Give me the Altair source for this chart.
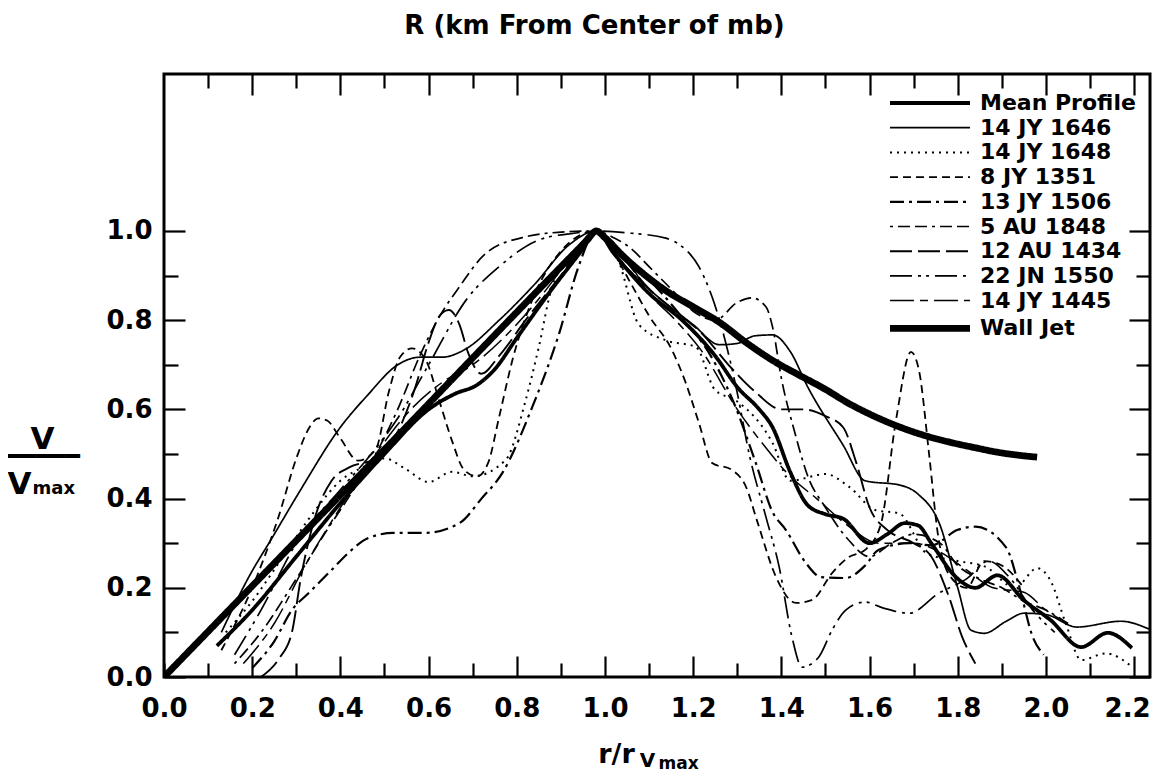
import altair as alt
import pandas as pd

FONT = "DejaVu Sans"

SERIES_NAMES = ["Mean Profile", "14 JY 1646", "14 JY 1648", "8 JY 1351", "13 JY 1506",
                "5 AU 1848", "12 AU 1434", "22 JN 1550", "14 JY 1445", "Wall Jet"]
DASHES = [[1, 0], [1, 0], [2, 5], [8, 5], [14, 5, 3, 5], [3, 5, 12, 5, 12, 5],
          [22, 6], [22, 6, 3, 5, 3, 6], [24, 6, 8, 6], [1, 0]]
WIDTHS = [3.8, 1.7, 2.0, 1.8, 2.2, 1.7, 1.9, 1.7, 1.5, 6.8]

X_MAJOR = [0.2, 0.4, 0.6, 0.8, 1.0, 1.2, 1.4, 1.6, 1.8, 2.0, 2.2]
X_MINOR = [0.0, 0.1, 0.3, 0.5, 0.7, 0.9, 1.1, 1.3, 1.5, 1.7, 1.9, 2.1]
X_TOP_MAJOR = [0.2, 0.4, 0.6, 0.8, 1.0, 1.2, 1.4, 1.6, 1.8, 2.0, 2.2]
X_TOP_MINOR = [0.1, 0.3, 0.5, 0.7, 0.9, 1.1, 1.3, 1.5, 1.7, 1.9, 2.1]
Y_MAJOR = [0.0, 0.2, 0.4, 0.6, 0.8, 1.0]
Y_MINOR = [0.1, 0.3, 0.5, 0.7, 0.9]

MEAN_X = [0.12, 0.2, 0.3, 0.4, 0.5, 0.6, 0.66, 0.71, 0.75, 0.8, 0.88, 0.95, 0.98, 1.02, 1.1, 1.175,
          1.25, 1.3, 1.35, 1.38, 1.42, 1.46, 1.5, 1.54, 1.6, 1.64, 1.68, 1.71, 1.74, 1.795, 1.84,
          1.89, 1.95, 2.01, 2.08, 2.14, 2.195]
MEAN_Y = [0.07, 0.15, 0.27, 0.39, 0.5, 0.6, 0.635, 0.655, 0.69, 0.76, 0.87, 0.96, 1.0, 0.95, 0.86, 0.8,
          0.72, 0.65, 0.6, 0.56, 0.46, 0.385, 0.365, 0.355, 0.30, 0.32, 0.345, 0.34, 0.30, 0.225, 0.20,
          0.228, 0.172, 0.128, 0.067, 0.099, 0.065]

JY1646_X = [0.13, 0.19, 0.25, 0.31, 0.4, 0.46, 0.53, 0.58, 0.63, 0.68, 0.76, 0.84, 0.92, 0.98, 1.02,
            1.1, 1.2, 1.26, 1.3, 1.34, 1.38, 1.42, 1.46, 1.54, 1.59, 1.67, 1.71, 1.76, 1.8, 1.83,
            1.86, 1.91, 1.95, 2.0, 2.07, 2.17, 2.235]
JY1646_Y = [0.1, 0.22, 0.32, 0.42, 0.56, 0.63, 0.70, 0.717, 0.717, 0.733, 0.80, 0.88, 0.97, 1.0, 0.95,
            0.87, 0.79, 0.745, 0.748, 0.765, 0.767, 0.73, 0.65, 0.52, 0.44, 0.43, 0.41, 0.34, 0.2, 0.105,
            0.098, 0.125, 0.143, 0.14, 0.112, 0.125, 0.107]

JY1648_X = [0.14, 0.2, 0.27, 0.34, 0.4, 0.45, 0.5, 0.55, 0.6, 0.653, 0.7, 0.775, 0.82, 0.85, 0.88,
            0.934, 0.98, 1.03, 1.077, 1.138, 1.206, 1.25, 1.297, 1.38, 1.42, 1.5, 1.553, 1.614, 1.667,
            1.73, 1.8, 1.863, 1.93, 1.98, 2.01, 2.045, 2.08, 2.136, 2.195]
JY1648_Y = [0.1, 0.17, 0.27, 0.37, 0.44, 0.47, 0.49, 0.465, 0.437, 0.46, 0.45, 0.487, 0.62, 0.74, 0.875,
            0.957, 1.0, 0.935, 0.79, 0.755, 0.74, 0.643, 0.62, 0.525, 0.44, 0.455, 0.427, 0.374, 0.367,
            0.277, 0.26, 0.247, 0.20, 0.244, 0.217, 0.12, 0.038, 0.053, 0.023]

JY1351_X = [0.13, 0.2, 0.26, 0.3, 0.33, 0.35, 0.37, 0.4, 0.44, 0.48, 0.51, 0.535, 0.563, 0.594, 0.624,
            0.653, 0.68, 0.71, 0.735, 0.76, 0.79, 0.835, 0.896, 0.98, 1.02, 1.06, 1.1, 1.152, 1.183,
            1.213, 1.243, 1.288, 1.32, 1.345, 1.388, 1.433, 1.47, 1.515, 1.553, 1.59, 1.625, 1.66,
            1.694, 1.712, 1.735, 1.755, 1.78, 1.82, 1.86, 1.9, 1.95]
JY1351_Y = [0.06, 0.2, 0.36, 0.49, 0.56, 0.58, 0.575, 0.535, 0.485, 0.51, 0.64, 0.717, 0.737, 0.71, 0.62,
            0.53, 0.465, 0.45, 0.48, 0.583, 0.71, 0.845, 0.95, 1.0, 0.95, 0.88, 0.81, 0.733, 0.66,
            0.57, 0.48, 0.464, 0.426, 0.35, 0.224, 0.166, 0.173, 0.233, 0.269, 0.285, 0.34, 0.576,
            0.729, 0.688, 0.50, 0.32, 0.23, 0.2, 0.26, 0.25, 0.2]

JY1506_X = [0.2, 0.25, 0.29, 0.33, 0.38, 0.42, 0.46, 0.52, 0.59, 0.67, 0.72, 0.767, 0.835, 0.896, 0.94,
            0.98, 1.02, 1.06, 1.12, 1.18, 1.24, 1.29, 1.342, 1.38, 1.41, 1.456, 1.49, 1.546, 1.59,
            1.62, 1.69, 1.74, 1.8, 1.84, 1.91, 1.94, 1.97, 1.995]
JY1506_Y = [0.02, 0.08, 0.15, 0.19, 0.24, 0.28, 0.31, 0.323, 0.323, 0.345, 0.4, 0.457, 0.605, 0.77, 0.92,
            1.0, 0.96, 0.93, 0.87, 0.8, 0.72, 0.62, 0.48, 0.37, 0.33, 0.255, 0.224, 0.222, 0.25,
            0.285, 0.30, 0.295, 0.33, 0.337, 0.29, 0.2, 0.09, 0.05]

AU1848_X = [0.16, 0.22, 0.3, 0.37, 0.43, 0.48, 0.53, 0.58, 0.62, 0.67, 0.73, 0.82, 0.91, 0.98, 1.02,
            1.06, 1.1, 1.15, 1.2, 1.25, 1.3, 1.333, 1.365, 1.38, 1.4, 1.43, 1.46, 1.5, 1.55, 1.6,
            1.65, 1.7, 1.76, 1.8, 1.85, 1.9, 1.95, 2.0, 2.05]
AU1848_Y = [0.03, 0.1, 0.22, 0.33, 0.42, 0.5, 0.6, 0.72, 0.8, 0.875, 0.95, 0.987, 0.998, 1.0, 0.985,
            0.96, 0.92, 0.87, 0.82, 0.8, 0.84, 0.85, 0.83, 0.785, 0.67, 0.55, 0.45, 0.38, 0.31, 0.27,
            0.3, 0.32, 0.3, 0.25, 0.22, 0.2, 0.17, 0.15, 0.12]

AU1434_X = [0.22, 0.26, 0.29, 0.31, 0.34, 0.38, 0.42, 0.48, 0.53, 0.57, 0.6, 0.625, 0.646, 0.67, 0.69,
            0.72, 0.76, 0.82, 0.9, 0.98, 1.02, 1.05, 1.1, 1.16, 1.22, 1.28, 1.34, 1.4, 1.45, 1.5,
            1.54, 1.57, 1.6, 1.64, 1.7, 1.74, 1.78, 1.81, 1.84]
AU1434_Y = [0.0, 0.04, 0.1, 0.22, 0.35, 0.44, 0.47, 0.49, 0.55, 0.65, 0.75, 0.81, 0.823, 0.79, 0.726,
            0.68, 0.72, 0.8, 0.9, 1.0, 0.97, 0.93, 0.87, 0.82, 0.77, 0.7, 0.64, 0.6, 0.6, 0.585,
            0.56, 0.48, 0.38, 0.33, 0.3, 0.27, 0.18, 0.09, 0.03]

JN1550_X = [0.16, 0.22, 0.3, 0.4, 0.47, 0.53, 0.6, 0.685, 0.76, 0.85, 0.93, 0.98, 1.06, 1.138, 1.175,
            1.213, 1.243, 1.274, 1.30, 1.327, 1.365, 1.395, 1.424, 1.447, 1.485, 1.515, 1.546, 1.59,
            1.63, 1.69, 1.757, 1.82, 1.87, 1.92, 1.97, 2.02]
JN1550_Y = [0.05, 0.15, 0.3, 0.42, 0.5, 0.58, 0.7, 0.845, 0.92, 0.98, 0.995, 1.0, 0.995, 0.984, 0.965,
            0.92, 0.852, 0.749, 0.637, 0.50, 0.359, 0.247, 0.09, 0.022, 0.045, 0.105, 0.15, 0.168,
            0.155, 0.143, 0.188, 0.22, 0.26, 0.22, 0.15, 0.1]

JY1445_X = [0.18, 0.25, 0.32, 0.4, 0.48, 0.56, 0.63, 0.7, 0.78, 0.86, 0.93, 0.98, 1.02, 1.04, 1.1,
            1.16, 1.22, 1.3, 1.36, 1.42, 1.48, 1.55, 1.62, 1.7, 1.76, 1.82, 1.88, 1.95, 2.0, 2.05]
JY1445_Y = [0.03, 0.12, 0.25, 0.38, 0.5, 0.6, 0.66, 0.7, 0.77, 0.86, 0.95, 1.0, 0.97, 0.95, 0.86,
            0.8, 0.73, 0.6, 0.52, 0.45, 0.4, 0.34, 0.3, 0.3, 0.28, 0.24, 0.2, 0.19, 0.15, 0.12]

WALL_X = [0.0, 0.5, 0.96, 0.98, 1.0, 1.04, 1.08, 1.14, 1.2, 1.26, 1.32, 1.38, 1.44, 1.5, 1.55, 1.61,
          1.67, 1.72, 1.78, 1.84, 1.89, 1.94, 1.98]
WALL_Y = [0.0, 0.51, 0.98, 1.0, 0.985, 0.945, 0.91, 0.865, 0.83, 0.795, 0.75, 0.71, 0.677, 0.645,
          0.615, 0.585, 0.56, 0.543, 0.527, 0.514, 0.504, 0.497, 0.493]

SERIES_DATA = [
    ("Mean Profile", MEAN_X, MEAN_Y),
    ("14 JY 1646", JY1646_X, JY1646_Y),
    ("14 JY 1648", JY1648_X, JY1648_Y),
    ("8 JY 1351", JY1351_X, JY1351_Y),
    ("13 JY 1506", JY1506_X, JY1506_Y),
    ("5 AU 1848", AU1848_X, AU1848_Y),
    ("12 AU 1434", AU1434_X, AU1434_Y),
    ("22 JN 1550", JN1550_X, JN1550_Y),
    ("14 JY 1445", JY1445_X, JY1445_Y),
    ("Wall Jet", WALL_X, WALL_Y),
]

rows = []
for name, xs, ys in SERIES_DATA:
    for xv, yv in zip(xs, ys):
        rows.append({"series": name, "x": xv, "y": yv})
df = pd.DataFrame(rows)

W, H = 986, 603
XSCALE = alt.Scale(domain=[0, 2.236], nice=False, zero=False)
YSCALE = alt.Scale(domain=[0, 1.352], nice=False, zero=False)


def axis(orient, values, size, title, tx, ty, tsize, talign="center", labels=False, pad=0, **kw):
    return alt.Axis(
        orient=orient, values=values, offset=-size, tickSize=size, tickWidth=2.2,
        tickColor="black", domain=False, grid=False, labels=labels, format=".1f",
        labelFont=FONT, labelFontSize=26, labelFontWeight="bold", labelColor="black",
        labelPadding=pad, labelOverlap=False,
        title=title, titleX=tx, titleY=ty, titleFont=FONT, titleFontSize=tsize,
        titleFontWeight="bold", titleColor="black", titleAngle=0, titleAlign=talign,
        titleBaseline="alphabetic", **kw
    )


legend = alt.Legend(
    title=None, orient="none", legendX=790, legendY=18, padding=0,
    labelFont=FONT, labelFontSize=22, labelFontWeight="bold", labelColor="black",
    symbolType="M-15,0H1", symbolSize=100, symbolStrokeColor="black",
    symbolFillColor="transparent", rowPadding=2.7, labelOffset=4, labelLimit=300,
)

lines = alt.Chart(df).mark_line(color="black", clip=True, interpolate="monotone").encode(
    x=alt.X("x:Q", scale=XSCALE,
            axis=axis("bottom", X_MAJOR, 21, "r/r", 452, 106, 27, labels=True, pad=18,
                      labelFlush=20, labelFlushOffset=16)),
    y=alt.Y("y:Q", scale=YSCALE,
            axis=axis("left", Y_MAJOR, 21, "V", -143, 374, 31, labels=True, pad=12,
                      labelFlush=False)),
    strokeDash=alt.StrokeDash("series:N", scale=alt.Scale(domain=SERIES_NAMES, range=DASHES),
                              legend=legend),
    strokeWidth=alt.StrokeWidth("series:N",
                                scale=alt.Scale(type="ordinal", domain=SERIES_NAMES, range=WIDTHS),
                                legend=legend),
)

aux_b = alt.Chart(df).mark_point(opacity=0, size=1).encode(
    x=alt.X("x:Q", scale=XSCALE,
            axis=axis("bottom", X_MINOR, 14, "V", 483, 103, 20, labels=True, pad=18,
                      labelFlush=False,
                      labelExpr="datum.value == 0 ? '0.0' : ''")),
    y=alt.Y("y:Q", scale=YSCALE, axis=axis("left", Y_MINOR, 14, "━━━━━", -135, 389, 24)),
)
aux_c = alt.Chart(df).mark_point(opacity=0, size=1).encode(
    x=alt.X("x:Q", scale=XSCALE,
            axis=axis("top", X_TOP_MAJOR, 21, "R (km From Center of mb)", 430, -62, 26)),
    y=alt.Y("y:Q", scale=YSCALE, axis=axis("right", Y_MAJOR, 21, "V", -1110, 419, 31)),
)
aux_d = alt.Chart(df).mark_point(opacity=0, size=1).encode(
    x=alt.X("x:Q", scale=XSCALE,
            axis=axis("top", X_TOP_MINOR, 14, "max", 494, 680, 17, talign="left")),
    y=alt.Y("y:Q", scale=YSCALE,
            axis=axis("right", Y_MINOR, 14, "max", -1104, 419, 18, talign="left")),
)

chart = alt.layer(lines, aux_b, aux_c, aux_d).resolve_axis(
    x="independent", y="independent"
).properties(
    width=W, height=H,
    autosize=alt.AutoSizeParams(type="none"),
    padding={"left": 156, "top": 66, "right": 2, "bottom": 96},
).configure_view(stroke="black", strokeWidth=3)

chart.save("out.html", embed_options={"renderer": "svg", "actions": False})
